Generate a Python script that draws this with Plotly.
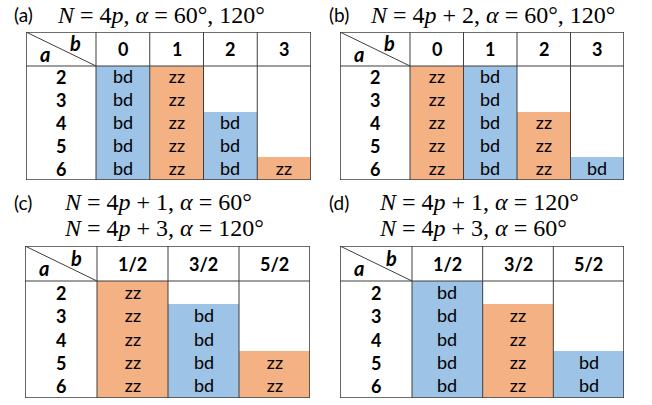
import plotly.graph_objects as go

# rows (a) shared by every panel
a_vals = ["2", "3", "4", "5", "6"]

# columns (b) per panel
b_int = ["0", "1", "2", "3"]
b_half = ["1/2", "3/2", "5/2"]

# cell states, one row per a value
cells_a = [["bd", "zz", "", ""],
           ["bd", "zz", "", ""],
           ["bd", "zz", "bd", ""],
           ["bd", "zz", "bd", ""],
           ["bd", "zz", "bd", "zz"]]
cells_b = [["zz", "bd", "", ""],
           ["zz", "bd", "", ""],
           ["zz", "bd", "zz", ""],
           ["zz", "bd", "zz", ""],
           ["zz", "bd", "zz", "bd"]]
cells_c = [["zz", "", ""],
           ["zz", "bd", ""],
           ["zz", "bd", ""],
           ["zz", "bd", "zz"],
           ["zz", "bd", "zz"]]
cells_d = [["bd", "", ""],
           ["bd", "zz", ""],
           ["bd", "zz", ""],
           ["bd", "zz", "bd"],
           ["bd", "zz", "bd"]]

titles = [("(a)", ["<i>N</i> = 4<i>p</i>, <i>α</i> = 60°, 120°"]),
          ("(b)", ["<i>N</i> = 4<i>p</i> + 2, <i>α</i> = 60°, 120°"]),
          ("(c)", ["<i>N</i> = 4<i>p</i> + 1, <i>α</i> = 60°",
                   "<i>N</i> = 4<i>p</i> + 3, <i>α</i> = 120°"]),
          ("(d)", ["<i>N</i> = 4<i>p</i> + 1, <i>α</i> = 120°",
                   "<i>N</i> = 4<i>p</i> + 3, <i>α</i> = 60°"])]

W, H = 652, 405
BLUE = "#9dc3e6"
ORANGE = "#f4b183"
LINE = "#3f3f3f"
SANS = "Lato"
SERIF = "Liberation Serif"

# pixel box of each table: left, label col right, right, top, header bottom, bottom
boxes = [(26, 96, 311, 32, 66, 180),
         (340, 410, 624, 32, 66, 180),
         (25, 97, 310, 246, 281, 398),
         (340, 412, 624, 246, 281, 398)]
# title placement: label x, math x, first line y
title_pos = [(12, 55, 15), (327, 368, 15), (12, 62, 202), (327, 377, 202)]

panels = [(b_int, cells_a), (b_int, cells_b), (b_half, cells_c), (b_half, cells_d)]

fig = go.Figure()
shapes, annos = [], []

for i, ((bcols, cells), box) in enumerate(zip(panels, boxes)):
    n = i + 1
    xa, ya = ("x", "y") if n == 1 else (f"x{n}", f"y{n}")
    left, lab_r, right, top, hdr_b, bottom = box
    ncol = len(bcols)
    colw = (right - lab_r) / ncol
    roww = (bottom - hdr_b) / len(a_vals)
    w0 = (lab_r - left) / colw
    h0 = (hdr_b - top) / roww

    z = [[1 if c == "bd" else 0 if c == "zz" else None for c in row] for row in cells]
    fig.add_trace(go.Heatmap(
        z=z, x=list(range(ncol)), y=list(range(len(a_vals))),
        text=cells, texttemplate="%{text}",
        textfont=dict(family=SANS, size=18, color="black"),
        colorscale=[[0, ORANGE], [0.5, ORANGE], [0.5, BLUE], [1, BLUE]],
        zmin=0, zmax=1, showscale=False, hoverinfo="skip",
        xaxis=xa, yaxis=ya))

    axn = "" if n == 1 else str(n)
    fig.layout[f"xaxis{axn}"] = dict(domain=[left / W, right / W],
                                     range=[-0.5 - w0, ncol - 0.5],
                                     visible=False, fixedrange=True)
    fig.layout[f"yaxis{axn}"] = dict(domain=[1 - bottom / H, 1 - top / H],
                                     range=[len(a_vals) - 0.5, -0.5 - h0],
                                     visible=False, fixedrange=True)

    x0, x1 = -0.5 - w0, ncol - 0.5
    y0, y1 = -0.5 - h0, len(a_vals) - 0.5
    ln = dict(color=LINE, width=1)
    # vertical lines
    for xv in [-0.5 + k for k in range(ncol)]:
        shapes.append(dict(type="line", xref=xa, yref=ya, x0=xv, x1=xv, y0=y0, y1=y1, line=ln))
    # header bottom
    shapes.append(dict(type="line", xref=xa, yref=ya, x0=x0, x1=x1, y0=-0.5, y1=-0.5, line=ln))
    # diagonal in corner cell
    shapes.append(dict(type="line", xref=xa, yref=ya, x0=x0, x1=-0.5, y0=y0, y1=-0.5, line=ln))
    # outer border
    shapes.append(dict(type="rect", xref=xa, yref=ya, x0=x0, x1=x1, y0=y0, y1=y1,
                       line=dict(color=LINE, width=1.6)))

    bold = dict(family=SANS, size=18, color="black")
    for k, b in enumerate(bcols):
        annos.append(dict(xref=xa, yref=ya, x=k, y=-0.5 - h0 / 2, text=f"<b>{b}</b>",
                          showarrow=False, font=bold))
    for r, a in enumerate(a_vals):
        annos.append(dict(xref=xa, yref=ya, x=-0.5 - w0 / 2, y=r, text=f"<b>{a}</b>",
                          showarrow=False, font=bold))
    annos.append(dict(xref=xa, yref=ya, x=x0 + 0.71 * w0, y=y0 + 0.33 * h0,
                      text="<b><i>b</i></b>", showarrow=False,
                      font=dict(family=SANS, size=20, color="black")))
    annos.append(dict(xref=xa, yref=ya, x=x0 + 0.27 * w0, y=y0 + 0.64 * h0,
                      text="<b><i>a</i></b>", showarrow=False,
                      font=dict(family=SANS, size=20, color="black")))

    # title
    lab, lines = titles[i]
    tx, mx, ty = title_pos[i]
    annos.append(dict(xref="paper", yref="paper", x=tx / W, y=1 - ty / H, text=lab,
                      xanchor="left", yanchor="middle", showarrow=False,
                      font=dict(family=SANS, size=19, color="black")))
    for j, t in enumerate(lines):
        annos.append(dict(xref="paper", yref="paper", x=mx / W, y=1 - (ty + 26 * j) / H,
                          text=t, xanchor="left", yanchor="middle", showarrow=False,
                          font=dict(family=SERIF, size=24, color="black")))

fig.update_layout(width=W, height=H, margin=dict(l=0, r=0, t=0, b=0),
                  plot_bgcolor="white", paper_bgcolor="white",
                  shapes=shapes, annotations=annos, showlegend=False)

fig.write_html("out.html", config={"displayModeBar": False},
               post_script="document.body.style.margin='0';")
